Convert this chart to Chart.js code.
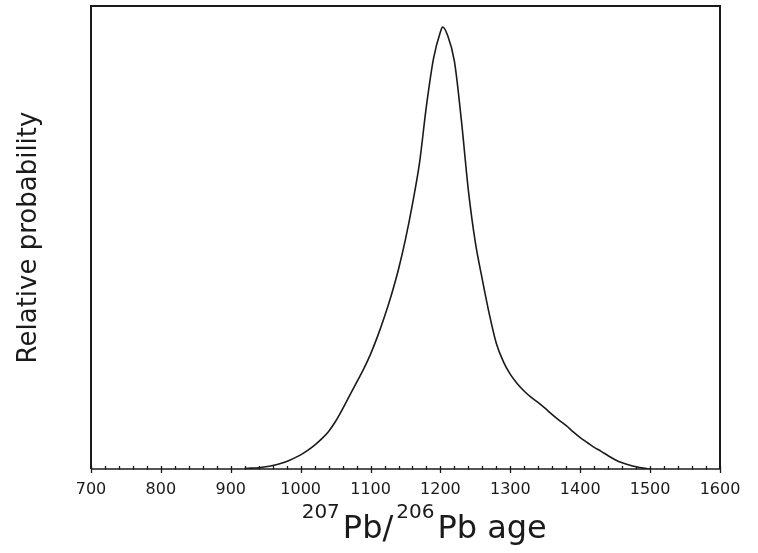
<!DOCTYPE html>
<html>
<head>
<meta charset="utf-8">
<script src="https://cdn.jsdelivr.net/npm/chart.js@4/dist/chart.umd.min.js"></script>
<style>
html,body{margin:0;padding:0;background:#fff;}
#wrap{width:758px;height:553px;position:relative;}
</style>
</head>
<body>
<div id="wrap"><canvas id="c" width="758" height="553"></canvas></div>
<script>
// Ages (Ma) and relative probability
const ages = [920,930,940,950,960,970,980,990,1000,1010,1020,1030,1040,1050,1060,1070,1080,1090,1100,1110,1120,1130,1140,1150,1160,1170,1180,1190,1200,1203,1210,1220,1230,1240,1250,1260,1270,1280,1290,1300,1310,1320,1330,1340,1350,1360,1370,1380,1390,1400,1410,1420,1430,1440,1450,1460,1470,1480,1490,1500];
const probability = [0.001,0.002,0.003,0.005,0.008,0.012,0.017,0.024,0.032,0.042,0.054,0.068,0.085,0.108,0.136,0.166,0.196,0.226,0.260,0.300,0.345,0.395,0.452,0.520,0.600,0.692,0.822,0.928,0.989,1.0,0.982,0.922,0.788,0.630,0.512,0.428,0.350,0.284,0.243,0.214,0.193,0.176,0.162,0.150,0.137,0.123,0.110,0.098,0.084,0.071,0.060,0.049,0.040,0.030,0.021,0.014,0.009,0.005,0.002,0.0];
const xMin = 700, xMax = 1600, majorStep = 100, minorStep = 20;
const yTitle = 'Relative probability';
const xTitleParts = [['207', 'sup'], ['Pb/', 'big'], ['206', 'sup'], ['Pb age', 'big']];

const FONT = '"DejaVu Sans", sans-serif';
const INK = '#1a1a1a';

const frame = {
  id: 'frame',
  afterDraw(chart) {
    const ctx = chart.ctx, a = chart.chartArea, xs = chart.scales.x;
    ctx.save();
    ctx.strokeStyle = INK;
    ctx.lineWidth = 2;
    ctx.beginPath();
    ctx.moveTo(a.left, a.bottom);
    ctx.lineTo(a.left, a.top);
    ctx.lineTo(a.right, a.top);
    ctx.lineTo(a.right, a.bottom);
    ctx.stroke();
    ctx.lineWidth = 1.5;
    ctx.beginPath();
    ctx.moveTo(a.left, a.bottom);
    ctx.lineTo(a.right, a.bottom);
    ctx.stroke();
    ctx.lineWidth = 1.3;
    for (let v = xMin; v <= xMax; v += minorStep) {
      const px = Math.round(xs.getPixelForValue(v)) + 0.5;
      const major = v % majorStep === 0;
      ctx.beginPath();
      ctx.moveTo(px, a.bottom - 3);
      ctx.lineTo(px, a.bottom + (major ? 4 : 0.5));
      ctx.stroke();
    }
    ctx.fillStyle = INK;
    ctx.textBaseline = 'alphabetic';
    ctx.textAlign = 'left';
    let x = xs.getPixelForValue(1000) + 1;
    const base = 538;
    for (const [t, kind] of xTitleParts) {
      if (kind === 'sup') {
        ctx.font = '20px ' + FONT;
        ctx.fillText(t, x, base - 20);
        x += ctx.measureText(t).width + 3;
      } else {
        ctx.font = '32px ' + FONT;
        ctx.fillText(t, x, base);
        x += ctx.measureText(t).width + 3;
      }
    }
    ctx.restore();
  }
};

new Chart(document.getElementById('c'), {
  type: 'line',
  data: {
    datasets: [{
      data: ages.map((a, i) => ({x: a, y: probability[i]})),
      borderColor: INK,
      borderWidth: 1.6,
      pointRadius: 0,
      fill: false,
      cubicInterpolationMode: 'monotone'
    }]
  },
  options: {
    responsive: false,
    animation: false,
    devicePixelRatio: 1,
    layout: {padding: {top: 6, right: 38, bottom: 0, left: 0}},
    plugins: {legend: {display: false}, tooltip: {enabled: false}},
    scales: {
      x: {
        type: 'linear',
        min: xMin, max: xMax,
        afterFit(s) { s.height = 84; },
        afterBuildTicks(s) {
          const t = [];
          for (let v = xMin; v <= xMax; v += majorStep) t.push({value: v});
          s.ticks = t;
        },
        border: {display: false},
        grid: {display: false, drawTicks: false},
        ticks: {
          autoSkip: false, maxRotation: 0,
          padding: 11,
          color: INK,
          font: {family: FONT, size: 16},
          callback: v => String(v)
        }
      },
      y: {
        min: 0, max: 1.0475,
        afterFit(s) { s.width = 91; },
        border: {display: false},
        grid: {display: false, drawTicks: false},
        ticks: {display: false},
        title: {
          display: true, text: yTitle,
          color: INK,
          font: {family: FONT, size: 26},
          padding: {top: 14, bottom: 0}
        }
      }
    }
  },
  plugins: [frame]
});
</script>
</body>
</html>
